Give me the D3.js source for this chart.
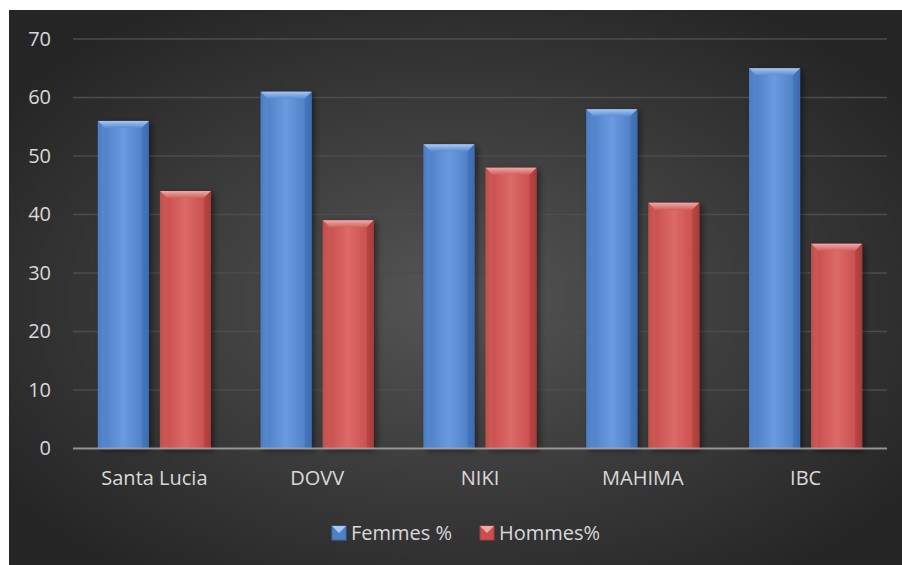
<!DOCTYPE html>
<html>
<head>
<meta charset="utf-8">
<script src="https://cdn.jsdelivr.net/npm/d3@7"></script>
<style>
  body { margin: 0; background: #fff; }
  text { font-family: "Open Sans", sans-serif; fill: #d9d9d9; }
</style>
</head>
<body>
<svg id="chart" width="902" height="565"></svg>
<script>
// data
let categories = ['Santa Lucia', 'DOVV', 'NIKI', 'MAHIMA', 'IBC'];
let seriesNames = ['Femmes %', 'Hommes%'];
let femmes = [56, 61, 52, 58, 65];
let hommes = [44, 39, 48, 42, 35];
let yTicks = [0, 10, 20, 30, 40, 50, 60, 70];

function getConfig(){
    let width = 902, height = 565;
    let margin = { top: 39, bottom: 116.5, left: 73, right: 15 };
    let bodyWidth = width - margin.left - margin.right;
    let bodyHeight = height - margin.top - margin.bottom;
    let container = d3.select('#chart');
    return { width, height, margin, bodyWidth, bodyHeight, container };
}

function addDefs(container){
    let defs = container.append('defs');
    let bg = defs.append('radialGradient').attr('id', 'bgGrad')
        .attr('cx', '50%').attr('cy', '52%').attr('r', '62%');
    bg.append('stop').attr('offset', '0%').attr('stop-color', '#555555');
    bg.append('stop').attr('offset', '100%').attr('stop-color', '#252525');

    let colors = {
        blue: { base: '#4f81c7', light: '#6b9ae0', dark: '#3d6bb0', top: '#a9c8f2', side: '#5a8cd4' },
        red: { base: '#c9504e', light: '#dc6a67', dark: '#a83c3a', top: '#eeaaa8', side: '#d0605d' }
    };
    Object.keys(colors).forEach(k => {
        let c = colors[k];
        let g = defs.append('linearGradient').attr('id', k + 'Body')
            .attr('x1', 0).attr('x2', 1).attr('y1', 0).attr('y2', 0);
        g.append('stop').attr('offset', '0%').attr('stop-color', c.dark);
        g.append('stop').attr('offset', '12%').attr('stop-color', c.base);
        g.append('stop').attr('offset', '50%').attr('stop-color', c.light);
        g.append('stop').attr('offset', '88%').attr('stop-color', c.base);
        g.append('stop').attr('offset', '100%').attr('stop-color', c.dark);
        let t = defs.append('linearGradient').attr('id', k + 'Top')
            .attr('x1', 0).attr('x2', 0).attr('y1', 0).attr('y2', 1);
        t.append('stop').attr('offset', '0%').attr('stop-color', c.top);
        t.append('stop').attr('offset', '100%').attr('stop-color', c.side);
    });
    let f = defs.append('filter').attr('id', 'shadow')
        .attr('x', '-20%').attr('y', '-10%').attr('width', '150%').attr('height', '130%');
    f.append('feDropShadow').attr('dx', 3).attr('dy', 2).attr('stdDeviation', 3)
        .attr('flood-color', '#000').attr('flood-opacity', 0.45);
    return colors;
}

function getScales(config){
    let xScale = d3.scaleBand().domain(categories).range([0, config.bodyWidth]);
    // bars ~51px wide with an ~11px gap inside each group
    let inner = d3.scaleBand().domain(seriesNames).range([0, xScale.bandwidth()])
        .paddingInner(0.177).paddingOuter(0.40);
    let yScale = d3.scaleLinear().domain([0, 70]).range([config.bodyHeight, 0]);
    return { xScale, inner, yScale };
}

function drawAxes(scales, config){
    let { xScale, yScale } = scales;
    let { container, margin, bodyWidth, bodyHeight } = config;
    let grid = container.append('g').attr('transform', `translate(${margin.left},${margin.top})`);
    grid.selectAll('line').data(yTicks.filter(d => d > 0)).join('line')
        .attr('x1', 0).attr('x2', bodyWidth)
        .attr('y1', d => yScale(d)).attr('y2', d => yScale(d))
        .attr('stroke', '#4d4d4d').attr('stroke-width', 1.3);

    let axisY = d3.axisLeft(yScale).tickValues(yTicks).tickSize(0).tickPadding(22);
    let gy = container.append('g').attr('transform', `translate(${margin.left},${margin.top})`).call(axisY);
    gy.select('.domain').remove();
    gy.selectAll('text').attr('font-size', 20).style('font-family', '"Open Sans", sans-serif');

    let axisX = d3.axisBottom(xScale).tickSize(0).tickPadding(22);
    let gx = container.append('g').attr('transform', `translate(${margin.left},${margin.top + bodyHeight})`).call(axisX);
    gx.select('.domain').remove();
    gx.selectAll('text').attr('font-size', 20).style('font-family', '"Open Sans", sans-serif');
}

function drawBars(scales, config, colors){
    let { xScale, inner, yScale } = scales;
    let { container, margin, bodyHeight, bodyWidth } = config;
    let body = container.append('g').attr('transform', `translate(${margin.left},${margin.top})`);
    let rows = [];
    categories.forEach((c, i) => {
        rows.push({ cat: c, series: seriesNames[0], value: femmes[i], key: 'blue' });
        rows.push({ cat: c, series: seriesNames[1], value: hommes[i], key: 'red' });
    });
    let b = 7;
    let bars = body.selectAll('g.bar').data(rows).join('g')
        .attr('class', 'bar')
        .attr('transform', d => `translate(${xScale(d.cat) + inner(d.series)},0)`)
        .attr('filter', 'url(#shadow)');
    let w = inner.bandwidth();
    bars.append('rect')
        .attr('x', 0).attr('y', d => yScale(d.value))
        .attr('width', w).attr('height', d => bodyHeight - yScale(d.value))
        .attr('fill', d => `url(#${d.key}Body)`);
    // top bevel
    bars.append('path')
        .attr('d', d => {
            let y = yScale(d.value);
            return `M0,${y}L${w},${y}L${w - b},${y + b}L${b},${y + b}Z`;
        })
        .attr('fill', d => `url(#${d.key}Top)`);
    // left / right bevel edges
    bars.append('path')
        .attr('d', d => {
            let y = yScale(d.value);
            return `M0,${y}L${b},${y + b}L${b},${bodyHeight}L0,${bodyHeight}Z`;
        })
        .attr('fill', d => colors[d.key].side).attr('opacity', 0.55);
    bars.append('path')
        .attr('d', d => {
            let y = yScale(d.value);
            return `M${w},${y}L${w - b},${y + b}L${w - b},${bodyHeight}L${w},${bodyHeight}Z`;
        })
        .attr('fill', d => colors[d.key].dark).attr('opacity', 0.55);

    // zero axis line
    body.append('line')
        .attr('x1', 0).attr('x2', bodyWidth)
        .attr('y1', bodyHeight).attr('y2', bodyHeight)
        .attr('stroke', '#a6a6a6').attr('stroke-width', 2).attr('opacity', 0.85);
}

function drawLegend(config, colors){
    let { container } = config;
    let items = [
        { name: seriesNames[0], key: 'blue', x: 332 },
        { name: seriesNames[1], key: 'red', x: 480 }
    ];
    let lg = container.append('g');
    let s = 14;
    let item = lg.selectAll('g').data(items).join('g')
        .attr('transform', d => `translate(${d.x},${526})`);
    item.append('rect').attr('width', s).attr('height', s)
        .attr('fill', d => colors[d.key].base).attr('stroke', d => colors[d.key].dark);
    item.append('path').attr('d', `M0,0L${s},0L${s / 2},${s / 2}Z`)
        .attr('fill', d => colors[d.key].top);
    item.append('text').attr('x', s + 5).attr('y', s / 2).attr('dy', '0.35em')
        .attr('font-size', 20).text(d => d.name);
}

function draw(){
    let config = getConfig();
    let { container } = config;
    let colors = addDefs(container);
    container.append('rect').attr('x', 9).attr('y', 10)
        .attr('width', 893).attr('height', 555).attr('fill', 'url(#bgGrad)');
    let scales = getScales(config);
    drawAxes(scales, config);
    drawBars(scales, config, colors);
    drawLegend(config, colors);
}
draw();
</script>
</body>
</html>
